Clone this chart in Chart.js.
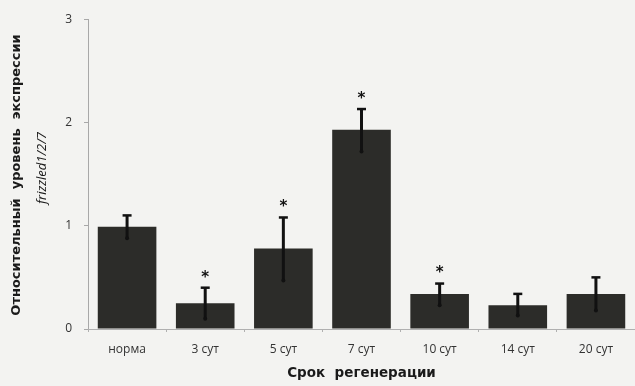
<!DOCTYPE html>
<html>
<head>
<meta charset="utf-8">
<script src="https://cdn.jsdelivr.net/npm/chart.js@4"></script>
<style>
  html, body { margin: 0; padding: 0; background: #f3f3f1; }
  #wrap { width: 635px; height: 386px; position: relative; }
</style>
</head>
<body>
<div id="wrap"><canvas id="exprChart"></canvas></div>
<script>
// relative frizzled1/2/7 expression by regeneration time
const categories = ['норма', '3 сут', '5 сут', '7 сут', '10 сут', '14 сут', '20 сут'];
const values     = [0.99, 0.25, 0.78, 1.93, 0.34, 0.23, 0.34];
const errLow     = [0.88, 0.10, 0.47, 1.72, 0.23, 0.13, 0.18];
const errHigh    = [1.10, 0.40, 1.08, 2.13, 0.44, 0.34, 0.50];
const significant = [false, true, true, true, true, false, false];
const yTicks     = [0, 1, 2, 3];

// error bars + asterisks
const errorBars = {
    id: 'errorBars',
    afterDatasetsDraw(chart) {
        const ctx = chart.ctx;
        const y = chart.scales.y;
        const meta = chart.getDatasetMeta(0);
        ctx.save();
        ctx.strokeStyle = '#111';
        ctx.fillStyle = '#111';
        meta.data.forEach(function(bar, i) {
            const x = bar.x;
            const top = y.getPixelForValue(errHigh[i]);
            const bot = y.getPixelForValue(errLow[i]);
            ctx.lineWidth = 3;
            ctx.beginPath();
            ctx.moveTo(x, top);
            ctx.lineTo(x, bot);
            ctx.stroke();
            ctx.lineWidth = 2.5;
            ctx.beginPath();
            ctx.moveTo(x - 4.5, top);
            ctx.lineTo(x + 4.5, top);
            ctx.stroke();
            ctx.beginPath();
            ctx.arc(x, bot, 2, 0, Math.PI * 2);
            ctx.fill();
            if (significant[i]) {
                ctx.font = 'bold 15px "DejaVu Sans"';
                ctx.textAlign = 'center';
                ctx.textBaseline = 'middle';
                ctx.fillText('*', x, top - 10);
            }
        });
        ctx.restore();
    }
};

// two-line y title: bold + italic
const yTitle = {
    id: 'yTitle',
    afterDraw(chart) {
        const ctx = chart.ctx;
        ctx.save();
        ctx.fillStyle = '#1a1a1a';
        ctx.textAlign = 'center';
        ctx.textBaseline = 'middle';
        ctx.translate(17, 175);
        ctx.rotate(-Math.PI / 2);
        ctx.font = 'bold 13px "DejaVu Sans"';
        ctx.fillText('Относительный  уровень  экспрессии', 0, 0);
        ctx.font = 'italic 13px "Open Sans"';
        ctx.fillText('frizzled1/2/7', 7, 25);
        ctx.restore();
    }
};

new Chart(document.getElementById('exprChart'), {
    type: 'bar',
    data: {
        labels: categories,
        datasets: [{
            data: values,
            backgroundColor: '#2c2c29',
            borderWidth: 0,
            categoryPercentage: 0.75,
            barPercentage: 1.0
        }]
    },
    options: {
        responsive: true,
        maintainAspectRatio: false,
        animation: false,
        layout: { padding: { top: 16, right: 0, left: 0, bottom: 0 } },
        plugins: {
            legend: { display: false },
            tooltip: { enabled: false }
        },
        scales: {
            y: {
                min: 0,
                max: 3,
                afterFit: function(scale) { scale.width = 88; },
                afterBuildTicks: function(scale) {
                    scale.ticks = yTicks.map(function(v) { return { value: v }; });
                },
                border: { color: '#a8a8a8', width: 1 },
                grid: {
                    drawOnChartArea: false,
                    drawTicks: true,
                    tickLength: 4,
                    color: '#a8a8a8'
                },
                ticks: {
                    color: '#333',
                    padding: 12,
                    font: { family: 'Open Sans', size: 12 }
                }
            },
            x: {
                afterFit: function(scale) { scale.height = 57; },
                border: { color: '#b0b0b0', width: 1 },
                grid: {
                    offset: true,
                    drawOnChartArea: false,
                    drawTicks: true,
                    tickLength: 3,
                    color: '#b0b0b0'
                },
                ticks: {
                    color: '#333',
                    padding: 10,
                    font: { family: 'Open Sans', size: 12 }
                },
                title: {
                    display: true,
                    text: 'Срок  регенерации',
                    color: '#1a1a1a',
                    padding: { top: 3 },
                    font: { family: 'DejaVu Sans', size: 13.5, weight: 'bold' }
                }
            }
        }
    },
    plugins: [errorBars, yTitle]
});
</script>
</body>
</html>
